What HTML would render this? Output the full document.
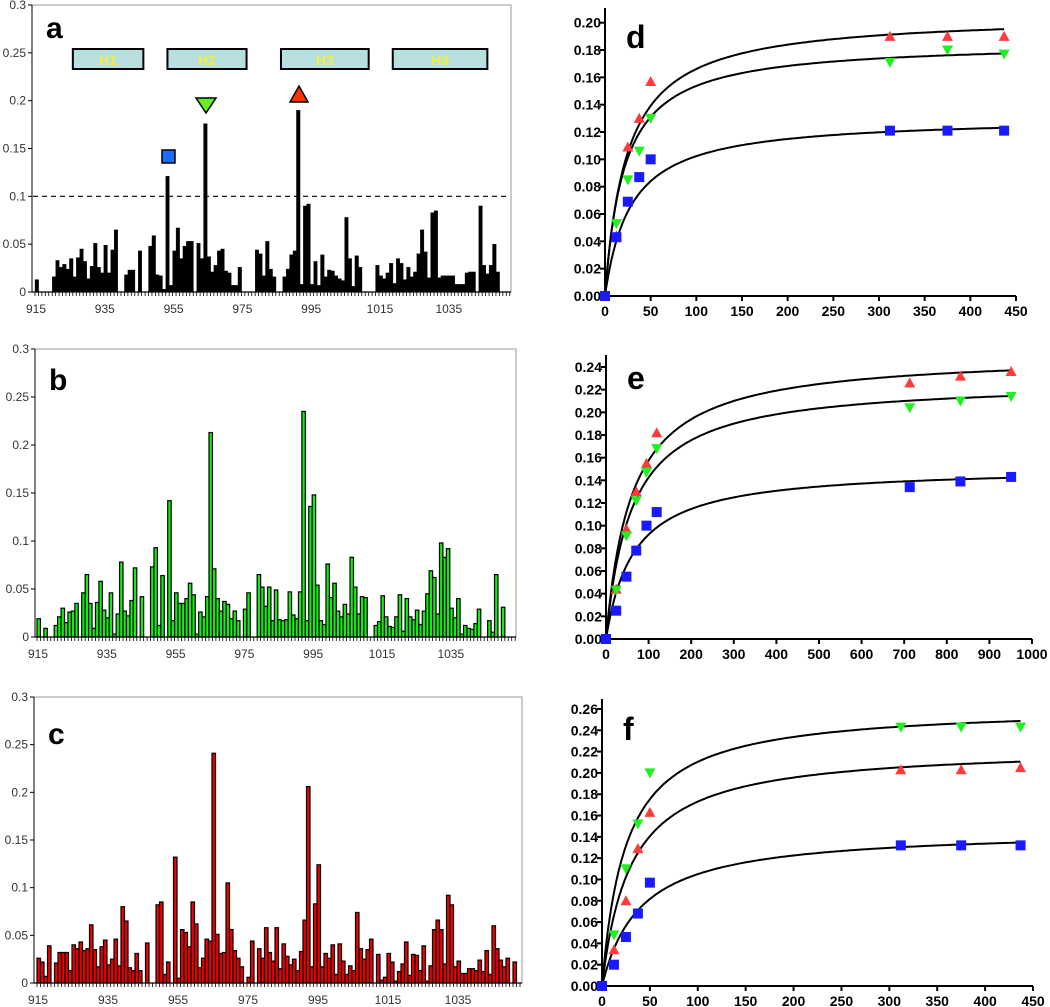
<!DOCTYPE html>
<html><head><meta charset="utf-8"><style>
html,body{margin:0;padding:0;background:#fff;}
svg{display:block;font-family:"Liberation Sans",sans-serif;}
</style></head><body>
<svg id="fig" width="1050" height="1007" viewBox="0 0 1050 1007"></svg>
<script>
// ---- Bar panel data (residues 915..) ----
const residueStart = 915;
const barTicks = [915, 935, 955, 975, 995, 1015, 1035];
const barYTicks = [0, 0.05, 0.1, 0.15, 0.2, 0.25, 0.3];
const barYLabels = ["0", "0.05", "0.1", "0.15", "0.2", "0.25", "0.3"];
const valuesA = [.013,0,0,0,0,.016,.033,.026,.029,.024,.035,.016,.036,.045,.032,.014,.027,.051,.026,.02,.049,.02,.044,.065,0,0,.018,.023,.023,0,.043,0,0,.048,.059,.018,.017,.003,.121,.007,.043,.067,.035,.048,.053,.053,0,.051,.035,.176,.037,.021,.028,.043,.045,.022,.02,.007,.007,.026,0,0,0,0,.044,.04,.017,.053,.024,.016,0,0,.016,.024,.039,.043,.19,.008,.09,.092,.008,.032,.007,.039,.016,.023,.022,.017,.014,.012,.078,.035,.006,.038,.026,0,0,0,0,.028,.017,.014,.02,.03,.009,.035,.03,.013,.026,.016,.021,.04,.065,.042,.015,.083,.085,.015,.017,.017,.017,.017,.008,.008,.008,.02,.021,.021,0,.09,.028,.019,.028,.05,.021];
const valuesB = [.019,0,.009,0,0,.012,.021,.030,.015,.026,.027,.035,0,.046,.065,.035,.009,.036,.058,.028,.020,.046,.003,.024,.078,.027,.022,.038,.072,0,.042,0,0,.073,.093,.012,.064,0,.142,.017,.046,.035,.035,.040,.056,.044,.003,.026,.021,.042,.213,.071,.040,.027,.037,.034,.019,.027,.017,0,.029,.046,0,0,.065,.052,.032,.052,.017,.049,.018,.017,.018,.047,.023,.019,.047,.235,.017,.136,.148,.054,.017,.013,.076,.041,.056,.027,.021,.034,.024,.083,.052,.024,.042,.041,0,0,.012,.016,.043,.021,.011,.010,.021,.044,.006,.040,.021,.018,.028,.013,.027,.045,.069,.062,.024,.098,.083,.092,.030,.020,.040,.003,.012,.009,.008,.014,.029,0,0,.017,.005,.065,0,.031];
const valuesC = [.026,.022,.007,.039,0,.021,.032,.032,.032,.013,.040,.036,.043,.034,.036,.061,.035,.017,.038,.045,.019,.025,.046,.018,.080,.065,.016,.013,.031,.013,0,.042,0,0,.082,.085,.009,.022,0,.132,.005,.056,.053,.038,.085,.062,.016,.026,.046,.044,.241,.051,.031,.032,.105,.056,.034,.026,.017,0,.006,.044,0,.036,.026,.058,.032,.023,.058,.015,.041,.028,.019,.025,.013,.033,.066,.206,.017,.083,.124,.017,.031,.026,.040,.009,.041,.023,.009,.018,.013,.074,.036,.025,.035,.046,0,.030,.003,.006,.031,.022,.002,.012,.020,.043,.008,.030,.029,.013,.039,.002,.018,.056,.066,.056,.020,.092,.082,.017,.023,.010,.010,.015,.015,.013,.024,.012,.034,.009,.060,.036,.024,.017,.026,0,.022];
const threshold = 0.1;
const helixNames = ["H1","H2","H3","H4"];
const helixStart = [926, 953.5, 986.5, 1019];
const helixEnd = [946.5, 976.5, 1012, 1046.5];

// ---- Kinetics data ----
const xD = [0,12.5,25,37.5,50,312,375,437];
const redD = [0,.044,.109,.130,.157,.190,.190,.190];
const greenD = [0,.053,.085,.106,.130,.171,.180,.177];
const blueD = [0,.043,.069,.087,.100,.121,.121,.121];
const fitD = [[.206,24],[.186,21],[.131,28]];
const xE = [0,24,48,71,95,119,713,832,951];
const redE = [0,.044,.097,.130,.155,.182,.226,.232,.236];
const greenE = [0,.043,.091,.122,.147,.168,.204,.210,.214];
const blueE = [0,.025,.055,.078,.100,.112,.134,.139,.143];
const fitE = [[.252,60],[.228,60],[.152,65]];
const xF = [0,12.5,25,37.5,50,312,375,437];
const redF = [0,.034,.080,.129,.163,.203,.203,.205];
const greenF = [0,.048,.110,.152,.200,.243,.243,.243];
const blueF = [0,.020,.046,.068,.097,.132,.132,.132];
const fitF = [[.225,30],[.263,25],[.147,40]];

const NS = "http://www.w3.org/2000/svg";
const svg = document.getElementById('fig');
function mk(tag, attrs, parent){
  const e = document.createElementNS(NS, tag);
  for (const k in attrs) e.setAttribute(k, attrs[k]);
  (parent||svg).appendChild(e);
  return e;
}

function barPanel(cfg){
  const g = mk('g', {});
  
  
  const xs = r => cfg.x0 + (r - residueStart) * cfg.step;
  const ys = v => cfg.y0 - v / 0.3 * (cfg.y0 - cfg.yTop);
  const fr = mk('rect', {x: cfg.left, y: cfg.yTop, width: cfg.right - cfg.left, height: cfg.y0 - cfg.yTop, fill: 'none', stroke: '#999', 'stroke-width': 1}, g);
  
  
  cfg.values.forEach((v, i) => {
    if (v <= 0) return;
    const r = residueStart + i;
    const b = mk('rect', {x: xs(r), y: ys(v), width: cfg.step - cfg.gap, height: cfg.y0 - ys(v), fill: cfg.fill, stroke: '#000', 'stroke-width': cfg.stroke}, g);
    
    
  });
  mk('line', {x1: cfg.left, y1: cfg.y0, x2: cfg.right, y2: cfg.y0, stroke: '#000', 'stroke-width': 1.2}, g);
  mk('line', {x1: cfg.left, y1: cfg.yTop, x2: cfg.left, y2: cfg.y0, stroke: '#000', 'stroke-width': 1}, g);
  for (let r = residueStart; r <= residueStart + 139; r++) {
    const x = xs(r);
    if (x > cfg.right) break;
    mk('line', {x1: x, y1: cfg.y0, x2: x, y2: cfg.y0 + 4, stroke: '#000', 'stroke-width': 0.8}, g);
  }
  barTicks.forEach(t => {
    const tx = mk('text', {x: xs(t) + 1, y: cfg.y0 + 21, 'font-size': 12, fill: '#333', 'text-anchor': 'middle'}, g);
    tx.textContent = t;
    
    
  });
  barYTicks.forEach((t, i) => {
    const y = ys(t);
    mk('line', {x1: cfg.left - 4, y1: y, x2: cfg.left, y2: y, stroke: '#000', 'stroke-width': 1}, g);
    const tx = mk('text', {x: cfg.left - 6, y: y + 4, 'font-size': 12, fill: '#333', 'text-anchor': 'end'}, g);
    tx.textContent = barYLabels[i];
    
    
  });
  const lb = mk('text', {x: cfg.left + 14, y: cfg.labelY, 'font-size': 30, 'font-weight': 'bold', fill: '#000'}, g);
  lb.textContent = cfg.id;
  
  
  return {g, xs, ys};
}

const pa = barPanel({id:'a', values: valuesA, x0: 35, step: 3.44, gap: -0.2, y0: 292, yTop: 5, left: 32, right: 511, fill: '#000', stroke: 0.3, labelY: 38});
const th = mk('line', {x1: 33, y1: pa.ys(threshold), x2: 510, y2: pa.ys(threshold), stroke: '#000', 'stroke-width': 1.2, 'stroke-dasharray': '5,4'}, pa.g);


helixNames.forEach((n, i) => {
  const x1 = pa.xs(helixStart[i]), x2 = pa.xs(helixEnd[i]);
  const r = mk('rect', {x: x1, y: 49, width: x2 - x1, height: 20, fill: '#b8dfe0', stroke: '#000', 'stroke-width': 2}, pa.g);
  
  
  const t = mk('text', {x: (x1 + x2) / 2, y: 65, 'font-size': 14, 'font-weight': 'bold', fill: '#f0f040', 'text-anchor': 'middle'}, pa.g);
  t.textContent = n;
  
  
});
const mSq = mk('rect', {x: 162, y: 150, width: 13, height: 13, fill: '#1a6cff', stroke: '#000', 'stroke-width': 1.5}, pa.g);


const mDn = mk('polygon', {points: '196,98 216,98 206,113', fill: '#66ee22', stroke: '#000', 'stroke-width': 1.5}, pa.g);


const mUp = mk('polygon', {points: '290,102 308,102 299,86', fill: '#ff3300', stroke: '#000', 'stroke-width': 1.5}, pa.g);



barPanel({id:'b', values: valuesB, x0: 37, step: 3.44, gap: 0, y0: 637, yTop: 349, left: 35, right: 516, fill: '#11ee11', stroke: 1.2, labelY: 390});
barPanel({id:'c', values: valuesC, x0: 37, step: 3.5, gap: 0, y0: 983, yTop: 697, left: 34, right: 522, fill: '#ee0000', stroke: 1.2, labelY: 744});

function kinPanel(cfg){
  const g = mk('g', {});
  
  
  const xs = v => cfg.ax + v / cfg.xMax * (cfg.axRight - cfg.ax);
  const ys = v => cfg.y0 - v / cfg.yRef * (cfg.y0 - cfg.yRefPx);
  mk('line', {x1: cfg.ax, y1: cfg.axTop, x2: cfg.ax, y2: cfg.y0 + 1, stroke: '#000', 'stroke-width': 2}, g);
  mk('line', {x1: cfg.ax - 1, y1: cfg.y0, x2: cfg.axRight, y2: cfg.y0, stroke: '#000', 'stroke-width': 2}, g);
  for (let v = 0; v <= cfg.xMax + 1e-9; v += cfg.xStep) {
    const x = xs(v);
    mk('line', {x1: x, y1: cfg.y0, x2: x, y2: cfg.y0 + 5, stroke: '#000', 'stroke-width': 2}, g);
    const t = mk('text', {x: x, y: cfg.y0 + 20, 'font-size': 14, 'font-weight': 'bold', fill: '#000', 'text-anchor': 'middle'}, g);
    t.textContent = Math.round(v);
    
    
  }
  for (let v = 0; v <= cfg.yMax + 1e-9; v += 0.02) {
    const y = ys(v);
    mk('line', {x1: cfg.ax - 5, y1: y, x2: cfg.ax, y2: y, stroke: '#000', 'stroke-width': 2}, g);
    const t = mk('text', {x: cfg.ax - 4, y: y + 5, 'font-size': 14, 'font-weight': 'bold', fill: '#000', 'text-anchor': 'end'}, g);
    t.textContent = v.toFixed(2);
    
    
  }
  cfg.fits.forEach((f, i) => {
    let d = '';
    for (let k = 0; k <= 200; k++) {
      const xv = cfg.fitMax * Math.pow(k / 200, 2);
      d += (k ? 'L' : 'M') + xs(xv).toFixed(1) + ',' + ys(f[0] * xv / (f[1] + xv)).toFixed(1);
    }
    const p = mk('path', {d: d, fill: 'none', stroke: '#000', 'stroke-width': 2}, g);
    
    
  });
  cfg.series.forEach((s, si) => {
    const color = cfg.colors[si];
    s.forEach((v, i) => {
      const x = xs(cfg.xs[i]), y = ys(v);
      let e;
      if (color === 'blue') e = mk('rect', {x: x - 5, y: y - 5, width: 10, height: 10, fill: '#1a1aff'}, g);
      else if (color === 'red') e = mk('polygon', {points: `${x-5.5},${y+4.5} ${x+5.5},${y+4.5} ${x},${y-5.5}`, fill: '#ff3a3a'}, g);
      else e = mk('polygon', {points: `${x-5.5},${y-4.5} ${x+5.5},${y-4.5} ${x},${y+5.5}`, fill: '#22ee22'}, g);
      
      
    });
  });
  const lb = mk('text', {x: cfg.ax + 21, y: cfg.labelY, 'font-size': 32, 'font-weight': 'bold', fill: '#000'}, g);
  lb.textContent = cfg.id;
  
  
}

kinPanel({id:'d', ax: 605, axRight: 1016, axTop: 8, y0: 296, yRef: 0.20, yRefPx: 22.7, yMax: 0.20, xMax: 450, xStep: 50, fitMax: 437, xs: xD, series: [redD, greenD, blueD], fits: fitD, colors: ['red','green','blue'], labelY: 48});
kinPanel({id:'e', ax: 606, axRight: 1032, axTop: 355, y0: 639, yRef: 0.24, yRefPx: 367, yMax: 0.24, xMax: 1000, xStep: 100, fitMax: 951, xs: xE, series: [redE, greenE, blueE], fits: fitE, colors: ['red','green','blue'], labelY: 389});
kinPanel({id:'f', ax: 602, axRight: 1033, axTop: 699, y0: 986, yRef: 0.26, yRefPx: 709, yMax: 0.26, xMax: 450, xStep: 50, fitMax: 437, xs: xF, series: [redF, greenF, blueF], fits: fitF, colors: ['red','green','blue'], labelY: 740});
</script>
</body></html>
